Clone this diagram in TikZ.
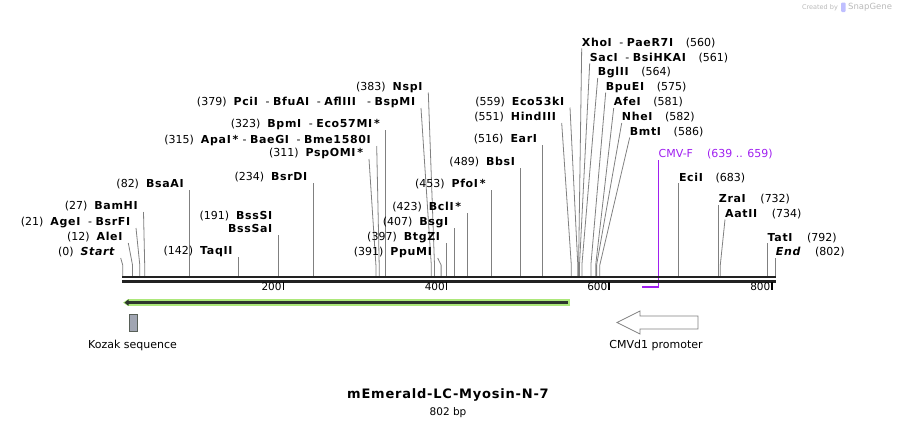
\documentclass[tikz,border=0pt]{standalone}
\usepackage{fontspec}
\setmainfont{DejaVu Sans}[BoldFeatures={LetterSpace=6.0}, BoldItalicFeatures={LetterSpace=6.0}]
\usetikzlibrary{positioning, arrows.meta}

\definecolor{cutgray}{RGB}{128,128,128}
\definecolor{backbone}{RGB}{34,34,34}
\definecolor{primer}{RGB}{160,32,240}
\definecolor{featgreen}{RGB}{172,232,122}
\definecolor{featdark}{RGB}{45,55,45}
\definecolor{kozakfill}{RGB}{160,165,178}
\definecolor{credit}{RGB}{185,185,185}

\begin{document}
\begin{tikzpicture}[x=1pt,y=-1pt,
  lbl/.style={font=\fontsize{11}{13}\selectfont, inner ysep=2pt, text depth=0pt},
  enzl/.style={lbl, anchor=south east, inner xsep=5pt, align=right},
  enzr/.style={lbl, anchor=south west, inner xsep=0pt},
  cutline/.style={draw=cutgray, line width=0.8pt},
  featlbl/.style={font=\fontsize{11}{13}\selectfont, inner sep=0pt}]
  \useasboundingbox (0,0) rectangle (898,426);

  % cut sites, labels left of the line
  \foreach \n/\sx/\tx/\ty/\txt in {
    start/122.7/120.7/258/{(0)\ \ \textbf{\textit{Start}}},
    alei/132.5/128.3/243/{(12)\ \ \textbf{AleI}},
    agei/139.8/136/228/{(21)\ \ \textbf{AgeI}\ \ - \textbf{BsrFI}},
    bamhi/144.7/143.5/212/{(27)\ \ \textbf{BamHI}},
    bsaai/189.5/189.5/190/{(82)\ \ \textbf{BsaAI}},
    taqii/238.3/238.3/257/{(142)\ \ \textbf{TaqII}},
    bsssi/278.2/278.2/235/{(191)\ \ \textbf{BssSI}\\\textbf{BssSaI}},
    bsrdi/313.2/313.2/183/{(234)\ \ \textbf{BsrDI}},
    pspomi/375.9/369/159/{(311)\ \ \textbf{PspOMI\,*}},
    apai/379.2/376.7/146/{(315)\ \ \textbf{ApaI\,*}\ - \textbf{BaeGI}\ \ - \textbf{Bme1580I}},
    bpmi/385.7/385.7/130/{(323)\ \ \textbf{BpmI}\ \ - \textbf{Eco57MI\,*}},
    pcii/431.3/421/108/{(379)\ \ \textbf{PciI}\ \ - \textbf{BfuAI}\ \ - \textbf{AflIII}\ \ \ - \textbf{BspMI}},
    nspi/434.5/428.3/92.5/{(383)\ \ \textbf{NspI}},
    ppumi/441.1/437.7/258/{(391)\ \ \textbf{PpuMI}},
    btgzi/445.9/445.9/243/{(397)\ \ \textbf{BtgZI}},
    bsgi/454.1/454.1/227.5/{(407)\ \ \textbf{BsgI}},
    bcli/467.1/467.1/212.5/{(423)\ \ \textbf{BclI\,*}},
    pfoi/491.5/491.5/190/{(453)\ \ \textbf{PfoI\,*}},
    bbsi/520.8/520.8/167.5/{(489)\ \ \textbf{BbsI}},
    eari/542.8/542.8/145/{(516)\ \ \textbf{EarI}},
    hindiii/571.3/561.7/123/{(551)\ \ \textbf{HindIII}},
    eco53ki/577.8/570/107.5/{(559)\ \ \textbf{Eco53kI}}} {
    \coordinate (s\n) at (\sx,276);
    \node[enzl] (l\n) at (\tx,\ty) {\txt};
    \draw[cutline] (s\n) -- ++(0,-11) -- (l\n.south east);
  }

  % cut sites, labels right of the line
  \foreach \n/\sx/\tx/\ty/\txt in {
    xhoi/578.6/581.7/48.3/{\textbf{XhoI}\ \ - \textbf{PaeR7I}\hspace{12pt}(560)},
    saci/579.5/589.7/63.3/{\textbf{SacI}\ \ - \textbf{BsiHKAI}\hspace{12pt}(561)},
    bglii/581.9/597.7/78/{\textbf{BglII}\hspace{12pt}(564)},
    bpuei/590.9/605.7/92.5/{\textbf{BpuEI}\hspace{12pt}(575)},
    afei/595.7/613.7/108/{\textbf{AfeI}\hspace{12pt}(581)},
    nhei/596.6/621.7/123/{\textbf{NheI}\hspace{12pt}(582)},
    bmti/599.8/629.7/137.5/{\textbf{BmtI}\hspace{12pt}(586)},
    ecii/678.8/678.8/183.3/{\textbf{EciI}\hspace{12pt}(683)},
    zrai/718.7/718.7/205/{\textbf{ZraI}\hspace{14pt}(732)},
    aatii/720.3/725/219.5/{\textbf{AatII}\hspace{14pt}(734)},
    tati/767.5/767.5/243.3/{\textbf{TatI}\hspace{14pt}(792)},
    end/775.7/775.7/258/{\textbf{\textit{End}}\hspace{14pt}(802)}} {
    \coordinate (s\n) at (\sx,276);
    \node[enzr] (l\n) at (\tx,\ty) {\txt};
    \draw[cutline] (s\n) -- ++(0,-11) -- (l\n.south west);
  }

  % primer
  \coordinate (cmvfa) at (642,286.5);
  \coordinate (cmvfb) at (658.5,286.5);
  \node[enzr, text=primer] (lcmvf) at (658.5,160) {CMV-F\hspace{14pt}(639 .. 659)};
  \draw[primer, line width=1pt] (lcmvf.south west) -- (cmvfb);
  \draw[primer, line width=2pt] (cmvfa) -- (cmvfb);

  % backbone and ruler
  \draw[backbone, line width=2.4pt] (122,277.2) -- (776,277.2);
  \draw[backbone, line width=2.4pt] (122,281.3) -- (776,281.3);
  \foreach \t/\x in {200/283.3, 400/446.5, 600/609, 800/772} {
    \draw[black, line width=1.4pt] (\x,282) -- (\x,289.5);
    \node[font=\fontsize{10.5}{12}\selectfont, anchor=east, inner xsep=1.5pt] (tick\t) at (\x,286.5) {\t};
  }

  % features
  \draw[featgreen, line width=6.5pt, -{Triangle[length=5pt, width=6.5pt]}] (570,302.6) -- (123,302.6);
  \draw[featdark, line width=2.4pt, -{Triangle[length=4pt, width=6pt]}] (567.5,302.6) -- (124.5,302.6);

  \node[draw=featdark!80, fill=kozakfill, line width=0.6pt, minimum width=8pt, minimum height=16.5pt, inner sep=0pt] (kozak) at (133.4,322.6) {};
  \node[featlbl] (lkozak) at (132.5,345) {Kozak sequence};

  \draw[draw=gray, fill=white, line width=0.7pt] (698,316) -- (640,316) -- (640,311) -- (617,322.5) -- (640,334) -- (640,329) -- (698,329) -- cycle;
  \node[featlbl] (lcmvd1) at (656,345) {CMVd1 promoter};

  % title
  \node[font=\fontsize{13}{15}\selectfont\bfseries] (title) at (448,395) {mEmerald-LC-Myosin-N-7};
  \node[font=\fontsize{10.5}{12}\selectfont, below=2pt of title, inner sep=0pt] (length) {802 bp};

  % watermark
  \node[font=\fontsize{6.5}{8}\selectfont, text=credit, inner sep=0pt] (created) at (820,7.5) {Created by};
  \fill[blue!25, rounded corners=1pt] (841,2.5) rectangle (845.5,12);
  \node[font=\fontsize{8.5}{10}\selectfont, text=credit, inner sep=0pt, anchor=west] (snapgene) at (848,7.5) {SnapGene};
\end{tikzpicture}
\end{document}
